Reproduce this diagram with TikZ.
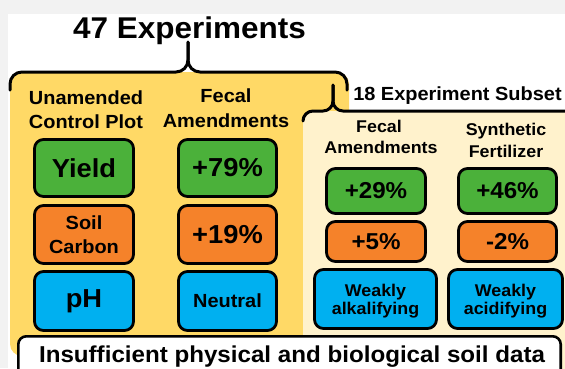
\documentclass[tikz,border=0pt]{standalone}
\usepackage{fontspec}
\setmainfont{Liberation Sans}[FakeStretch=1.05]
\definecolor{bggray}{HTML}{F2F2F2}
\definecolor{cyellow}{HTML}{FFD966}
\definecolor{ccream}{HTML}{FFF2CC}
\definecolor{cgreen}{HTML}{4BB13A}
\definecolor{corange}{HTML}{F5822A}
\definecolor{cblue}{HTML}{00B0F0}
\tikzset{
  brace/.style={line width=3pt, line join=round, line cap=round, rounded corners=#1},
  brace/.default=12pt,
  statbox/.style={draw=black, line width=2.8pt, rounded corners=9pt, inner sep=0pt, align=center},
  gbox/.style={statbox, fill=cgreen},
  obox/.style={statbox, fill=corange},
  bbox/.style={statbox, fill=cblue},
  hdr/.style={anchor=base, inner sep=0pt, font=\bfseries\fontsize{#1}{#1}\selectfont},
  hdr/.default=19,
  big/.style={font=\bfseries\fontsize{26}{30}\selectfont},
  mid/.style={font=\bfseries\fontsize{23}{26}\selectfont},
}
\begin{document}
\begin{tikzpicture}[x=1pt,y=-1pt]
\useasboundingbox (0,0) rectangle (565,368);
\clip (0,0) rectangle (565,368);
% background
\fill[bggray] (0,0) rectangle (565,368);
\fill[white] (8,14) rectangle (565,368);
% yellow and cream panels
\fill[cyellow, rounded corners=12pt] (10,72) rectangle (349,356);
\fill[ccream, rounded corners=10pt] (303,111) rectangle (620,420);
% braces
\draw[brace] (10,90) |- (188,72) -- (188,42);
\draw[brace] (347,90) |- (188,72) -- (188,42);
\draw[brace=10pt] (303,121) |- (333,111) -- (333,85);
\draw[brace=10pt] (610,121) |- (333,111) -- (333,85);
% titles
\node[hdr=30] (title) at (189.5,38) {47 Experiments};
\node[hdr=19] (subset) at (457.5,100) {18 Experiment Subset};
% left headers
\node[hdr=19] (ctrlA) at (86,104) {Unamended};
\node[hdr=19] (ctrlB) at (86,128) {Control Plot};
\node[hdr=19] (fecA) at (226,102) {Fecal};
\node[hdr=19] (fecB) at (226,127) {Amendments};
% right headers
\node[hdr=17] (rfecA) at (379,132) {Fecal};
\node[hdr=17] (rfecB) at (381,153) {Amendments};
\node[hdr=17] (synA) at (506,135) {Synthetic};
\node[hdr=17] (synB) at (506,157) {Fertilizer};
% left column boxes
\node[gbox, big, minimum width=99pt, minimum height=57pt] (yield) at (84,168) {Yield};
\node[obox, font=\bfseries\fontsize{19}{24}\selectfont, minimum width=99pt, minimum height=58pt] (carbon) at (84,234.5) {Soil\\Carbon};
\node[bbox, big, minimum width=99pt, minimum height=59pt] (ph) at (84,301) {pH};
\node[gbox, big, minimum width=98pt, minimum height=57pt] (f79) at (227.5,168) {+79\%};
\node[obox, big, minimum width=98pt, minimum height=58pt] (f19) at (227.5,234.5) {+19\%};
\node[bbox, font=\bfseries\fontsize{19}{22}\selectfont, minimum width=98pt, minimum height=59pt] (fneu) at (227.5,301) {Neutral};
% right column boxes
\node[gbox, mid, minimum width=99pt, minimum height=45pt] (r29) at (376,191) {+29\%};
\node[obox, mid, minimum width=99pt, minimum height=40pt] (r5) at (376,241.5) {+5\%};
\node[bbox, font=\bfseries\fontsize{17}{18}\selectfont, minimum width=122pt, minimum height=59pt] (ralk) at (375.5,299) {\rule{0pt}{17.5pt}Weakly\\alkalifying};
\node[gbox, mid, minimum width=98pt, minimum height=45pt] (s46) at (507.5,191) {+46\%};
\node[obox, mid, minimum width=98pt, minimum height=40pt] (s2) at (507.5,241.5) {-2\%};
\node[bbox, font=\bfseries\fontsize{17}{18}\selectfont, minimum width=114pt, minimum height=59pt] (sacid) at (505.5,299) {\rule{0pt}{17.5pt}Weakly\\acidifying};
% bottom note
\draw[line width=2.6pt, fill=white, rounded corners=8pt] (18.3,336.3) rectangle (560.7,400);
\node[hdr=23] (note) at (292,362) {Insufficient physical and biological soil data};
\end{tikzpicture}
\end{document}
